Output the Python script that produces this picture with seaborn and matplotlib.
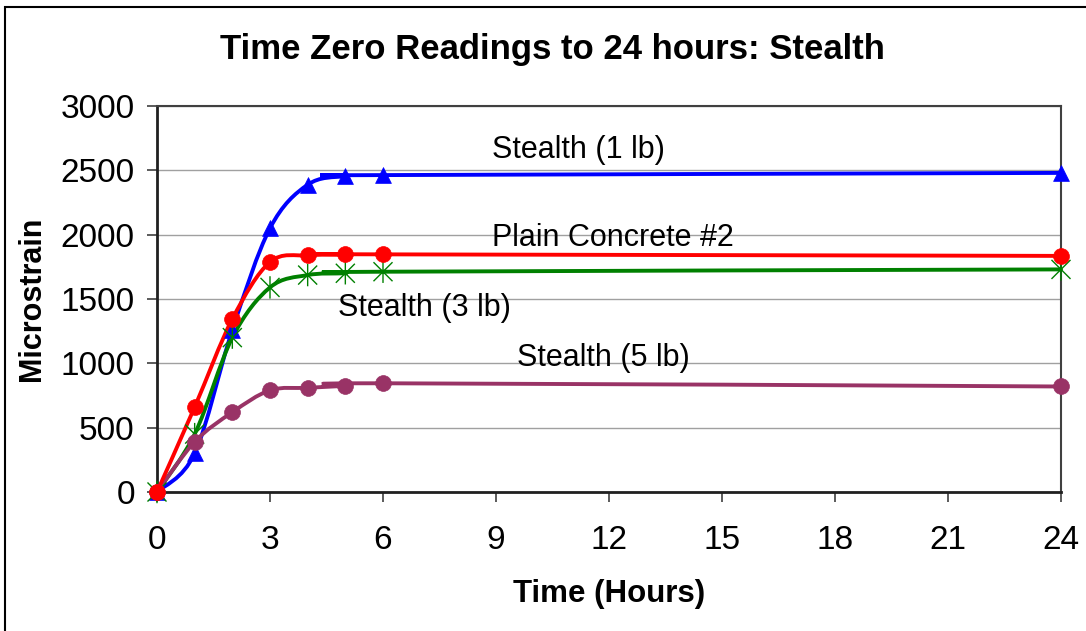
import numpy as np
import matplotlib
matplotlib.use("Agg")
import matplotlib.pyplot as plt
from matplotlib.path import Path
from matplotlib.patches import PathPatch, Rectangle
import seaborn as sns

# ---- data ----
hours = [0, 1, 2, 3, 4, 5, 6, 24]
stealth_1lb = [0, 300, 1260, 2050, 2388, 2455, 2463, 2480]
plain_concrete_2 = [0, 660, 1345, 1787, 1840, 1847, 1847, 1835]
stealth_3lb = [0, 450, 1200, 1590, 1686, 1700, 1712, 1730]
stealth_5lb = [0, 390, 620, 790, 810, 825, 845, 820]

series_names = ["Stealth (1 lb)", "Stealth (3 lb)", "Stealth (5 lb)", "Plain Concrete #2"]
series_values = [stealth_1lb, stealth_3lb, stealth_5lb, plain_concrete_2]
x_ticks = [0, 3, 6, 9, 12, 15, 18, 21, 24]
y_ticks = [0, 500, 1000, 1500, 2000, 2500, 3000]

colors = {"Stealth (1 lb)": "#0000FF", "Plain Concrete #2": "#FF0000",
          "Stealth (3 lb)": "#008000", "Stealth (5 lb)": "#993366"}

star = Path([(0, -1), (0, 1), (-0.85, -0.85), (0.85, 0.85), (-0.85, 0.85), (0.85, -0.85)],
            [Path.MOVETO, Path.LINETO, Path.MOVETO, Path.LINETO, Path.MOVETO, Path.LINETO])
markers = {"Stealth (1 lb)": "^", "Plain Concrete #2": "o",
           "Stealth (3 lb)": star, "Stealth (5 lb)": "o"}

sns.set_theme(style="white")
plt.rcParams['font.family'] = ['Liberation Sans', 'DejaVu Sans']
plt.rcParams['text.color'] = 'black'
plt.rcParams['axes.labelcolor'] = 'black'
plt.rcParams['xtick.color'] = 'black'
plt.rcParams['ytick.color'] = 'black'

fig = plt.figure(figsize=(10.86, 6.31), dpi=100)
ax = fig.add_axes([157/1086, 1-492/631, (1061-157)/1086, (492-106)/631])


def smooth_path(xs, ys):
    """Excel-style smoothed line (cardinal Bezier through the data points)."""
    p = np.column_stack([xs, ys]).astype(float)
    n = len(p)
    verts = [p[0]]
    codes = [Path.MOVETO]
    for i in range(n - 1):
        p_prev = p[i - 1] if i > 0 else p[i]
        p_next2 = p[i + 2] if i + 2 < n else p[i + 1]
        c1 = p[i] + (p[i + 1] - p_prev) / 6.0
        c2 = p[i + 1] - (p_next2 - p[i]) / 6.0
        verts += [c1, c2, p[i + 1]]
        codes += [Path.CURVE4] * 3
    return Path(verts, codes)


for name, vals in zip(series_names, series_values):
    c = colors[name]
    ax.add_patch(PathPatch(smooth_path(hours, vals), facecolor="none",
                           edgecolor=c, lw=2.8, zorder=3, capstyle="round",
                           clip_on=False))
    if markers[name] is star:
        sns.scatterplot(x=hours, y=vals, marker=star, s=260, facecolor="none",
                        edgecolor=c, linewidth=1.0, color=c, ax=ax, zorder=4,
                        clip_on=False)
    else:
        sns.scatterplot(x=hours, y=vals, marker=markers[name], s=130, color=c,
                        edgecolor=c, linewidth=0.5, ax=ax, zorder=4,
                        clip_on=False)

ax.set_xlim(0, 24)
ax.set_ylim(0, 3000)
ax.set_xticks(x_ticks)
ax.set_yticks(y_ticks)
ax.set_xticklabels([str(t) for t in x_ticks])
ax.set_yticklabels([str(t) for t in y_ticks])
ax.tick_params(axis="both", which="major", direction="out", length=7, width=1.2,
               color="#404040", labelsize=24, labelcolor="black")
ax.tick_params(axis="x", pad=17)
ax.tick_params(axis="y", pad=9, left=True)
ax.tick_params(axis="x", bottom=True)
ax.grid(axis="y", color="#a0a0a0", lw=1.0)
ax.grid(axis="x", visible=False)
ax.set_axisbelow(True)
for side in ["top", "right"]:
    ax.spines[side].set_color("#404040")
    ax.spines[side].set_linewidth(1.5)
for side in ["left", "bottom"]:
    ax.spines[side].set_color("#202020")
    ax.spines[side].set_linewidth(2)

ax.set_xlabel("Time (Hours)", fontsize=22.5, fontweight="bold", labelpad=16)
ax.set_ylabel("Microstrain", fontsize=22, fontweight="bold", labelpad=10)

fig.text(552/1086, 1-50/631, "Time Zero Readings to 24 hours: Stealth",
         ha="center", va="center", fontsize=25, fontweight="bold")

ax.text(8.9, 2657, "Stealth (1 lb)", fontsize=22, va="center", ha="left")
ax.text(8.9, 1974, "Plain Concrete #2", fontsize=22, va="center", ha="left")
ax.text(4.81, 1430, "Stealth (3 lb)", fontsize=22, va="center", ha="left")
ax.text(9.56, 1041, "Stealth (5 lb)", fontsize=22, va="center", ha="left")

fig.patches.append(Rectangle((5/1086, -0.2), 1.3, 1.2 - 7/631, transform=fig.transFigure,
                             fill=False, edgecolor="black", lw=1.5))

fig.savefig("out.png", dpi=100, facecolor="white")
